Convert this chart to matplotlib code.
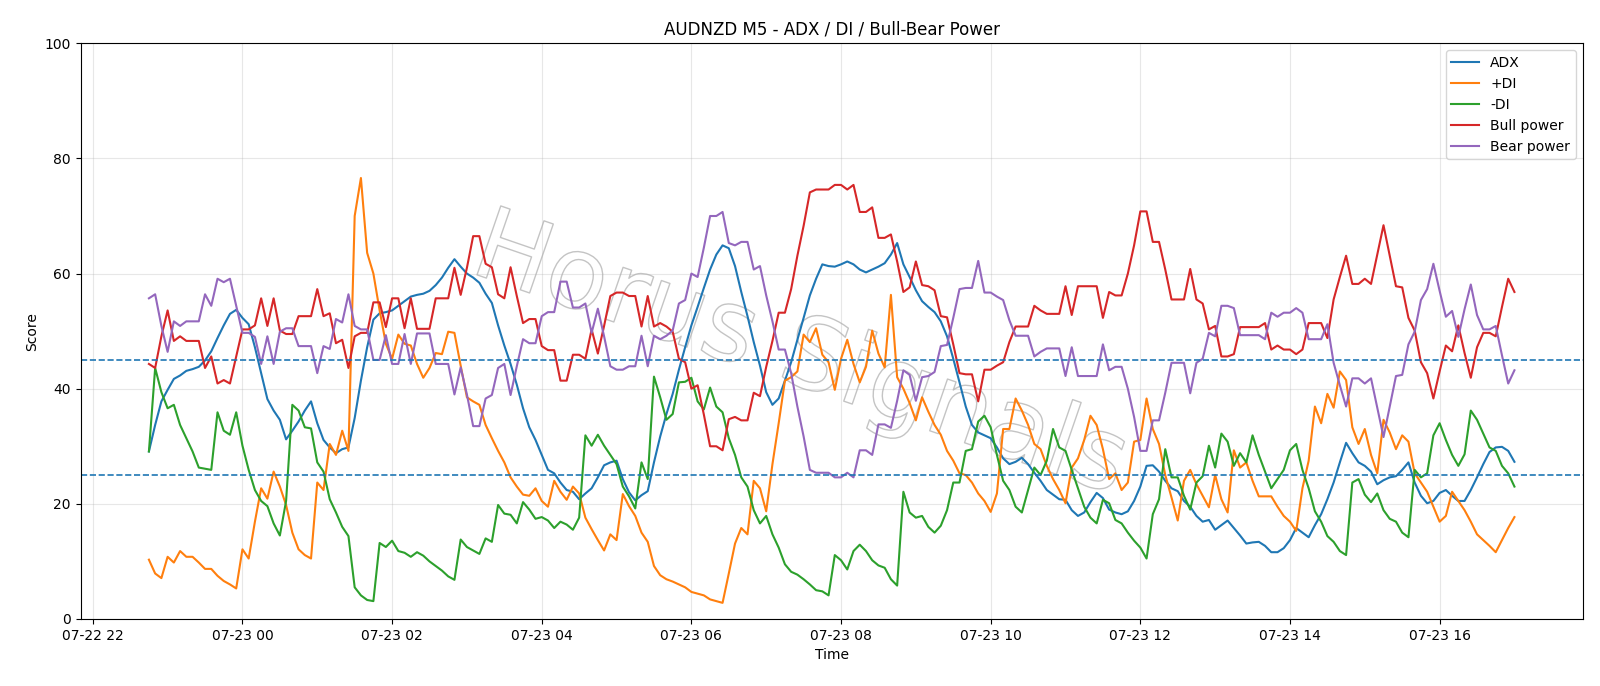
import numpy as np
import pandas as pd
import matplotlib
matplotlib.use("Agg")
import matplotlib.pyplot as plt
import matplotlib.dates as mdates
import matplotlib.patheffects as pe

# 5-minute bars, 07-22 22:45 -> 07-23 17:00
times = pd.date_range("2025-07-22 22:45", periods=220, freq="5min")

adx = [29.1, 33.7, 37.8, 39.8, 41.7, 42.3, 43.1, 43.4, 43.8, 44.9,
       46.5, 48.8, 51.0, 53.0, 53.7, 52.3, 51.2, 47.2, 42.7, 38.2,
       36.2, 34.6, 31.2, 32.7, 34.3, 36.2, 37.8, 34.0, 31.1, 29.8,
       28.8, 29.5, 29.8, 34.9, 41.4, 47.2, 52.0, 53.1, 53.3, 53.6,
       54.4, 55.2, 56.0, 56.3, 56.5, 57.0, 58.0, 59.3, 61.0, 62.5,
       61.2, 60.0, 59.3, 58.4, 56.5, 54.9, 51.0, 47.5, 44.3, 40.7,
       36.6, 33.3, 31.1, 28.5, 25.9, 25.3, 23.7, 22.4, 22.1, 20.8,
       21.8, 22.7, 24.6, 26.7, 27.2, 27.5, 24.3, 22.0, 20.6, 21.5,
       22.2, 27.2, 31.7, 35.6, 39.1, 43.3, 47.2, 51.0, 54.2, 57.5,
       60.7, 63.3, 64.9, 64.4, 61.3, 56.8, 52.6, 48.1, 44.0, 39.4,
       37.2, 38.3, 41.4, 44.6, 48.5, 52.3, 56.2, 59.1, 61.6, 61.3,
       61.2, 61.6, 62.1, 61.6, 60.7, 60.2, 60.7, 61.2, 61.8, 63.3,
       65.3, 61.6, 59.4, 57.1, 55.2, 54.2, 53.3, 51.7, 49.1, 45.2,
       41.1, 36.9, 33.7, 32.4, 31.9, 31.4, 29.8, 27.9, 26.9, 27.3,
       28.0, 26.9, 25.4, 24.0, 22.4, 21.6, 20.8, 20.7, 18.9, 17.9,
       18.5, 20.3, 21.9, 21.0, 19.0, 18.5, 18.2, 18.7, 20.5, 23.0,
       26.6, 26.7, 25.6, 24.0, 22.7, 22.2, 20.5, 19.5, 17.9, 16.9,
       17.2, 15.5, 16.3, 17.1, 15.8, 14.5, 13.1, 13.3, 13.4, 12.7,
       11.6, 11.6, 12.3, 13.7, 15.8, 15.0, 14.2, 16.3, 18.2, 20.8,
       23.7, 27.2, 30.6, 28.8, 27.2, 26.6, 25.6, 23.4, 24.1, 24.6,
       24.8, 25.9, 27.2, 23.7, 21.4, 20.1, 20.5, 21.9, 22.4, 21.4,
       20.5, 20.5, 22.4, 24.6, 26.9, 29.0, 29.8, 29.9, 29.2, 27.3]

plus_di = [10.3, 7.9, 7.1, 10.8, 9.8, 11.8, 10.8, 10.8, 9.8, 8.7,
           8.7, 7.5, 6.6, 6.0, 5.3, 12.1, 10.5, 16.9, 22.7, 20.9,
           25.6, 23.0, 19.8, 15.0, 12.1, 11.1, 10.5, 23.7, 22.4, 30.4,
           28.5, 32.7, 29.2, 70.0, 76.6, 63.6, 60.0, 53.6, 47.8, 45.2,
           49.4, 47.8, 47.5, 44.3, 41.9, 43.6, 46.2, 46.0, 49.9, 49.7,
           44.0, 38.5, 37.8, 37.2, 33.7, 31.4, 29.2, 27.2, 24.6, 23.0,
           21.6, 21.4, 22.7, 20.5, 19.5, 24.0, 22.1, 20.7, 23.0, 21.8,
           17.6, 15.6, 13.7, 11.9, 14.7, 13.7, 21.7, 19.6, 17.9, 15.0,
           13.4, 9.2, 7.6, 6.9, 6.5, 6.0, 5.5, 4.7, 4.4, 4.1,
           3.4, 3.1, 2.8, 7.9, 13.1, 15.8, 14.7, 24.0, 22.7, 18.7,
           26.9, 34.0, 41.4, 42.0, 43.0, 49.4, 48.1, 50.5, 45.9, 44.6,
           39.8, 45.2, 48.5, 44.3, 41.1, 43.8, 50.1, 46.1, 43.7, 56.3,
           42.0, 40.0, 37.5, 34.5, 38.5, 36.0, 33.7, 32.0, 29.2, 27.5,
           25.3, 25.0, 23.7, 21.8, 20.5, 18.6, 21.8, 33.0, 33.0, 38.3,
           36.2, 33.7, 30.4, 29.5, 26.6, 24.3, 22.4, 20.1, 26.3, 27.9,
           31.1, 35.3, 33.7, 29.5, 24.3, 25.3, 22.4, 23.7, 30.8, 31.1,
           38.3, 33.0, 30.4, 25.0, 21.1, 17.1, 24.0, 25.9, 23.4, 21.4,
           19.4, 25.0, 20.8, 18.5, 29.3, 26.3, 27.2, 24.0, 21.3, 21.3,
           21.3, 19.5, 17.9, 16.9, 15.3, 22.7, 27.5, 36.9, 34.0, 39.1,
           36.7, 43.0, 41.5, 33.3, 30.4, 33.0, 28.5, 25.3, 34.6, 32.4,
           29.5, 31.9, 30.8, 25.3, 23.7, 22.1, 19.5, 16.9, 17.9, 22.1,
           20.5, 18.9, 16.9, 14.7, 13.7, 12.7, 11.6, 13.7, 15.8, 17.7]

minus_di = [29.1, 43.6, 39.4, 36.6, 37.2, 33.7, 31.4, 29.1, 26.3, 26.1,
            25.9, 35.9, 32.7, 32.0, 35.9, 30.1, 25.9, 22.4, 20.5, 19.6,
            16.6, 14.5, 20.5, 37.2, 36.2, 33.3, 33.1, 27.2, 25.6, 20.8,
            18.5, 16.0, 14.4, 5.5, 4.1, 3.3, 3.1, 13.2, 12.5, 13.6,
            11.8, 11.5, 10.8, 11.6, 11.0, 10.0, 9.2, 8.4, 7.4, 6.8,
            13.8, 12.5, 11.9, 11.3, 14.0, 13.4, 19.8, 18.3, 18.1, 16.6,
            20.3, 19.0, 17.4, 17.7, 17.1, 15.8, 16.9, 16.4, 15.5, 17.6,
            31.9, 30.1, 32.0, 30.1, 28.5, 26.9, 23.0, 21.3, 19.2, 27.2,
            24.3, 42.1, 38.5, 34.6, 35.6, 41.1, 41.2, 41.9, 37.8, 36.4,
            40.2, 36.9, 35.9, 31.4, 28.5, 24.6, 23.0, 18.9, 16.6, 17.9,
            14.7, 12.4, 9.5, 8.2, 7.7, 6.9, 6.0, 5.0, 4.8, 4.1,
            11.1, 10.2, 8.6, 11.8, 12.9, 11.8, 10.2, 9.3, 8.9, 6.9,
            5.8, 22.1, 18.5, 17.6, 17.9, 16.0, 15.0, 16.2, 18.9, 23.7,
            23.7, 29.2, 29.5, 34.3, 35.3, 33.3, 28.5, 24.0, 22.4, 19.5,
            18.5, 22.4, 26.3, 25.0, 27.5, 33.0, 29.8, 29.2, 25.9, 22.7,
            19.5, 17.6, 16.6, 20.7, 20.1, 17.2, 16.6, 15.0, 13.6, 12.4,
            10.5, 18.2, 20.8, 29.5, 24.6, 24.6, 21.4, 19.0, 23.7, 24.8,
            30.1, 26.3, 32.2, 30.8, 26.6, 28.8, 27.2, 31.9, 28.5, 25.6,
            22.7, 24.3, 25.9, 29.3, 30.4, 25.9, 22.7, 18.7, 16.9, 14.4,
            13.4, 11.8, 11.1, 23.7, 24.3, 21.6, 20.3, 21.8, 18.9, 17.4,
            16.9, 15.0, 14.2, 25.9, 24.6, 25.3, 31.9, 34.0, 31.1, 28.5,
            26.6, 28.6, 36.2, 34.6, 32.2, 29.8, 29.2, 26.6, 25.3, 23.0]

bull_power = [44.3, 43.6, 49.1, 53.6, 48.3, 49.1, 48.3, 48.3, 48.3, 43.6,
              45.6, 40.9, 41.5, 40.9, 45.6, 50.3, 50.3, 51.0, 55.7, 50.9,
              55.7, 50.1, 49.5, 49.5, 52.6, 52.6, 52.6, 57.3, 52.6, 53.1,
              47.9, 48.5, 43.6, 49.1, 49.7, 49.7, 55.0, 55.0, 50.7, 55.7,
              55.7, 50.5, 55.7, 50.4, 50.4, 50.4, 55.7, 55.7, 55.7, 61.0,
              56.3, 61.0, 66.5, 66.5, 61.7, 61.1, 56.4, 55.7, 61.1, 56.1,
              51.4, 52.1, 52.1, 47.4, 46.7, 46.7, 41.4, 41.4, 45.9, 45.9,
              45.2, 50.3, 46.1, 50.9, 56.1, 56.7, 56.7, 56.1, 56.1, 50.8,
              56.1, 50.8, 51.4, 50.8, 49.9, 45.2, 44.6, 40.0, 40.6, 35.5,
              30.0, 30.0, 29.3, 34.7, 35.1, 34.5, 34.5, 39.3, 38.7, 43.8,
              48.3, 53.2, 53.2, 57.3, 63.1, 68.3, 74.1, 74.6, 74.6, 74.6,
              75.4, 75.4, 74.6, 75.4, 70.7, 70.7, 71.5, 66.2, 66.2, 66.8,
              62.1, 56.8, 57.6, 62.1, 58.0, 57.8, 57.1, 52.6, 52.4, 47.7,
              42.7, 42.5, 42.5, 37.8, 43.3, 43.3, 44.0, 44.6, 48.1, 50.8,
              50.8, 50.8, 54.4, 53.6, 53.0, 53.0, 53.0, 57.8, 52.8, 57.8,
              57.8, 57.8, 57.8, 52.3, 56.8, 56.2, 56.2, 60.0, 64.9, 70.8,
              70.8, 65.5, 65.5, 60.7, 55.5, 55.5, 55.5, 60.8, 55.5, 54.8,
              50.3, 50.9, 45.6, 45.6, 46.0, 50.7, 50.7, 50.7, 50.7, 51.4,
              46.8, 47.5, 46.8, 46.8, 46.0, 46.8, 51.4, 51.4, 51.4, 48.8,
              55.5, 59.4, 63.1, 58.2, 58.2, 59.1, 58.2, 63.3, 68.4, 63.1,
              57.8, 57.6, 52.3, 50.1, 44.6, 42.7, 38.3, 43.0, 47.5, 46.5,
              51.0, 46.2, 41.9, 47.2, 49.7, 49.7, 49.1, 54.2, 59.1, 56.8]

bear_power = [55.7, 56.4, 50.9, 46.4, 51.7, 50.9, 51.7, 51.7, 51.7, 56.4,
              54.4, 59.1, 58.5, 59.1, 54.4, 49.7, 49.7, 49.0, 44.3, 49.1,
              44.3, 49.9, 50.5, 50.5, 47.4, 47.4, 47.4, 42.7, 47.4, 46.9,
              52.1, 51.5, 56.4, 50.9, 50.3, 50.3, 45.0, 45.0, 49.3, 44.3,
              44.3, 49.5, 44.3, 49.6, 49.6, 49.6, 44.3, 44.3, 44.3, 39.0,
              43.7, 39.0, 33.5, 33.5, 38.3, 38.9, 43.6, 44.3, 38.9, 43.9,
              48.6, 47.9, 47.9, 52.6, 53.3, 53.3, 58.6, 58.6, 54.1, 54.1,
              54.8, 49.7, 53.9, 49.1, 43.9, 43.3, 43.3, 43.9, 43.9, 49.2,
              43.9, 49.2, 48.6, 49.2, 50.1, 54.8, 55.4, 60.0, 59.4, 64.5,
              70.0, 70.0, 70.7, 65.3, 64.9, 65.5, 65.5, 60.7, 61.3, 56.2,
              51.7, 46.8, 46.8, 42.7, 36.9, 31.7, 25.9, 25.4, 25.4, 25.4,
              24.6, 24.6, 25.4, 24.6, 29.3, 29.3, 28.5, 33.8, 33.8, 33.2,
              37.9, 43.2, 42.4, 37.9, 42.0, 42.2, 42.9, 47.4, 47.6, 52.3,
              57.3, 57.5, 57.5, 62.2, 56.7, 56.7, 56.0, 55.4, 51.9, 49.2,
              49.2, 49.2, 45.6, 46.4, 47.0, 47.0, 47.0, 42.2, 47.2, 42.2,
              42.2, 42.2, 42.2, 47.7, 43.2, 43.8, 43.8, 40.0, 35.1, 29.2,
              29.2, 34.5, 34.5, 39.3, 44.5, 44.5, 44.5, 39.2, 44.5, 45.2,
              49.7, 49.1, 54.4, 54.4, 54.0, 49.3, 49.3, 49.3, 49.3, 48.6,
              53.2, 52.5, 53.2, 53.2, 54.0, 53.2, 48.6, 48.6, 48.6, 51.2,
              44.5, 40.6, 36.9, 41.8, 41.8, 40.9, 41.8, 36.7, 31.6, 36.9,
              42.2, 42.4, 47.7, 49.9, 55.4, 57.3, 61.7, 57.0, 52.5, 53.5,
              49.0, 53.8, 58.1, 52.8, 50.3, 50.3, 50.9, 45.8, 40.9, 43.2]

levels = [25, 45]

fig = plt.figure(figsize=(16, 6.86), dpi=100)
ax = fig.add_axes([0.0504, 0.0977, 0.9388, 0.8392])

# faint outlined watermark behind the lines
ax.text(0.479, 0.455, "Horus Signals", transform=ax.transAxes,
        fontsize=72, rotation=-19, ha="center", va="center",
        color="none", zorder=0,
        path_effects=[pe.Stroke(linewidth=1.0, foreground="#c4c4c4")])

ax.plot(times, adx, label="ADX", lw=1.5)
ax.plot(times, plus_di, label="+DI", lw=1.5)
ax.plot(times, minus_di, label="-DI", lw=1.5)
ax.plot(times, bull_power, label="Bull power", lw=1.5)
ax.plot(times, bear_power, label="Bear power", lw=1.5)
for lv in levels:
    ax.axhline(lv, ls="--", lw=1.2, c="C0")

ax.set_ylim(0, 100)
ax.xaxis.set_major_locator(mdates.HourLocator(byhour=range(0, 24, 2)))
ax.xaxis.set_major_formatter(mdates.DateFormatter("%m-%d %H"))
ax.grid(True, alpha=0.3)
ax.set_title("AUDNZD M5 - ADX / DI / Bull-Bear Power")
ax.set_xlabel("Time")
ax.set_ylabel("Score")
ax.legend(loc="upper right")

fig.savefig("out.png", dpi=100)
